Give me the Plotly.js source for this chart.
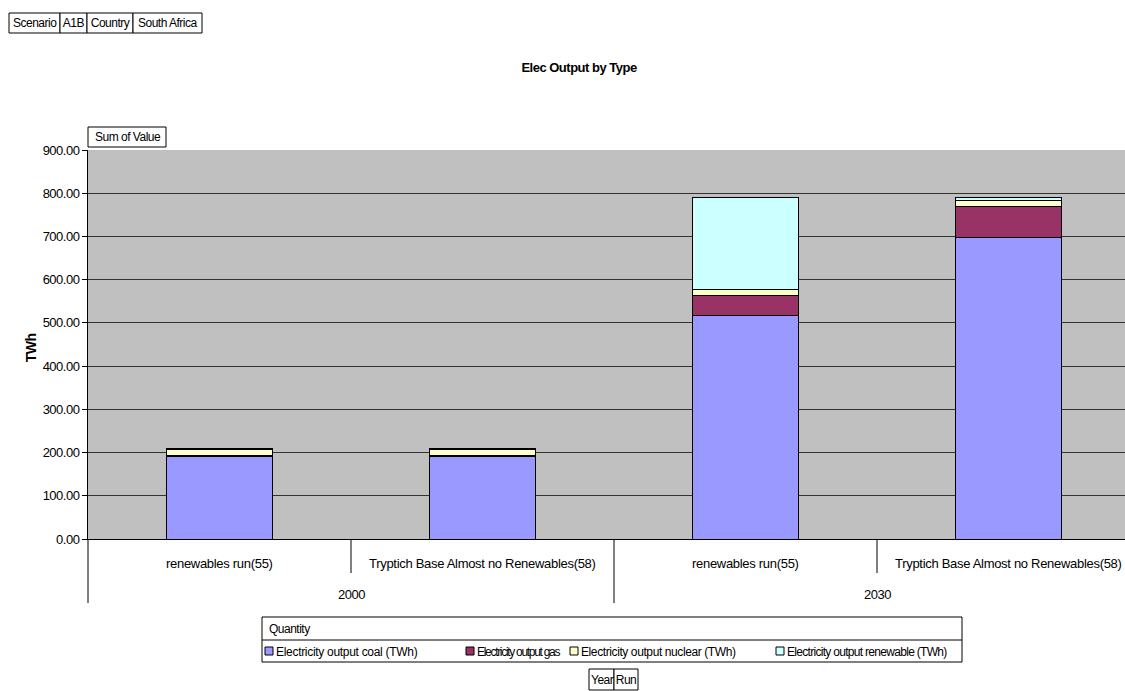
<!DOCTYPE html>
<html>
<head>
<meta charset="utf-8">
<script src="https://cdn.plot.ly/plotly-3.0.1.min.js"></script>
<style>
html,body{margin:0;padding:0;background:#fff;}
#chart{width:1125px;height:691px;}
#chart text{letter-spacing:-0.5px;}
</style>
</head>
<body>
<div id="chart"></div>
<script>
// ---- data ----
const years = ["2000", "2000", "2030", "2030"];
const runs = ["renewables run(55)", "Tryptich Base Almost no Renewables(58)", "renewables run(55)", "Tryptich Base Almost no Renewables(58)"];
const coal = [192, 192, 516, 698];
const gas = [1, 1, 47, 72];
const nuclear = [13, 13, 14, 14];
const renewable = [3, 3, 214, 7];
const seriesNames = ["Electricity output coal (TWh)", "Electricity output gas", "Electricity output nuclear (TWh)", "Electricity output renewable (TWh)"];
const seriesColors = ["#9999FF", "#993366", "#FFFFCC", "#CCFFFF"];
const yTicks = [0, 100, 200, 300, 400, 500, 600, 700, 800, 900];

// ---- geometry helpers (page pixels -> paper coords) ----
const W = 1125, H = 691, L = 88, T = 150, B = 539;
const PW = W - L, PH = B - T;
const px = x => (x - L) / PW;
const py = y => (B - y) / PH;
const FONT = "Liberation Sans, Arial, sans-serif";
const sp = (s, t) => '<span style="letter-spacing:' + s + 'px">' + t + '</span>';

const cats = years.map((y, i) => y + "|" + runs[i] + "|" + i);
const vals = [coal, gas, nuclear, renewable];

const traces = vals.map((v, k) => ({
  type: "bar",
  x: cats,
  y: v,
  name: seriesNames[k],
  marker: {color: seriesColors[k], line: {color: "#000", width: 1}},
  showlegend: false,
  hoverinfo: "y+name"
}));

const annotations = [];
const shapes = [];

// inner category labels
cats.forEach((c, i) => {
  annotations.push({xref: "x", yref: "paper", x: c, y: py(563), yanchor: "middle", xanchor: "center",
    text: sp(-0.3, runs[i]), showarrow: false, font: {family: FONT, size: 13, color: "#000"}});
});
// outer year labels
const yearGroups = [["2000", 0.5], ["2030", 2.5]];
yearGroups.forEach(g => {
  annotations.push({xref: "x", yref: "paper", x: g[1], y: py(594), yanchor: "middle", xanchor: "center",
    text: g[0], showarrow: false, font: {family: FONT, size: 13, color: "#000"}});
});
// dividers
[0.5, 2.5].forEach(xv => shapes.push({type: "line", xref: "x", yref: "paper", x0: xv, x1: xv, y0: 0, y1: py(573), line: {color: "#000", width: 1}}));
[1.5].forEach(xv => shapes.push({type: "line", xref: "x", yref: "paper", x0: xv, x1: xv, y0: 0, y1: py(603), line: {color: "#000", width: 1}}));
shapes.push({type: "line", xref: "paper", yref: "paper", x0: 0, x1: 0, y0: 0, y1: py(603), line: {color: "#000", width: 1}});

// boxed text cells helper
function cell(x0, x1, y0, y1, text) {
  shapes.push({type: "rect", xref: "paper", yref: "paper", x0: px(x0), x1: px(x1), y0: py(y0), y1: py(y1),
    line: {color: "#000", width: 1}, fillcolor: "#fff", layer: "above"});
  annotations.push({xref: "paper", yref: "paper", x: px((x0 + x1) / 2), y: py((y0 + y1) / 2), xanchor: "center", yanchor: "middle",
    text: text, showarrow: false, font: {family: FONT, size: 12, color: "#000"}});
}
// header table
const headerCells = [["Scenario", 9, 60], ["A1B", 60, 87], ["Country", 87, 133], ["South Africa", 133, 202]];
headerCells.forEach(c => cell(c[1], c[2], 13, 33, c[0]));
// Sum of Value
cell(88, 166, 127, 147, "Sum of Value");
// Year | Run
cell(589, 614, 669, 690, "Year");
cell(614, 638, 669, 690, "Run");

// legend box
shapes.push({type: "rect", xref: "paper", yref: "paper", x0: px(262), x1: px(962), y0: py(617), y1: py(662), line: {color: "#000", width: 1}, fillcolor: "#fff"});
shapes.push({type: "line", xref: "paper", yref: "paper", x0: px(262), x1: px(962), y0: py(640), y1: py(640), line: {color: "#000", width: 1}});
annotations.push({xref: "paper", yref: "paper", x: px(265), y: py(628.5), xanchor: "left", yanchor: "middle", text: "Quantity", showarrow: false, font: {family: FONT, size: 12, color: "#000"}});
const legX = [265, 466, 570, 776];
const legSpacing = [-0.3, -1.3, -0.4, -0.7];
seriesNames.forEach((n, k) => {
  shapes.push({type: "rect", xref: "paper", yref: "paper", x0: px(legX[k]), x1: px(legX[k] + 8), y0: py(647), y1: py(655), line: {color: "#000", width: 1}, fillcolor: seriesColors[k]});
  annotations.push({xref: "paper", yref: "paper", x: px(legX[k] + 9), y: py(651.5), xanchor: "left", yanchor: "middle",
    text: sp(legSpacing[k], n), showarrow: false, font: {family: FONT, size: 12, color: "#000"}});
});

// y title
annotations.push({xref: "paper", yref: "paper", x: px(31), y: py(348), xanchor: "center", yanchor: "middle", textangle: -90,
  text: "<b>TWh</b>", showarrow: false, font: {family: FONT, size: 14, color: "#000"}});

const layout = {
  width: W, height: H,
  margin: {l: L, r: 0, t: T, b: H - B, pad: 0},
  paper_bgcolor: "#fff",
  plot_bgcolor: "#C0C0C0",
  barmode: "stack",
  bargap: 0.6,
  title: {text: "<b>Elec Output by Type</b>", x: 579 / W, xanchor: "center", y: 1 - 67 / H, yanchor: "middle", yref: "container",
    font: {family: FONT, size: 13, color: "#000"}},
  xaxis: {type: "category", range: [-0.5, -0.5 + PW / 263], showticklabels: false, ticks: "", showgrid: false,
    showline: true, linecolor: "#000", linewidth: 1, fixedrange: true},
  yaxis: {range: [0, 900], tickvals: yTicks, tickformat: ".2f", ticks: "outside", ticklen: 5, tickcolor: "#000",
    showline: true, linecolor: "#000", linewidth: 1, gridcolor: "#333", gridwidth: 1, zeroline: false,
    tickfont: {family: FONT, size: 13, color: "#000"}, fixedrange: true},
  annotations: annotations,
  shapes: shapes,
  showlegend: false
};

Plotly.newPlot("chart", traces, layout, {displayModeBar: false, staticPlot: true});
</script>
</body>
</html>
